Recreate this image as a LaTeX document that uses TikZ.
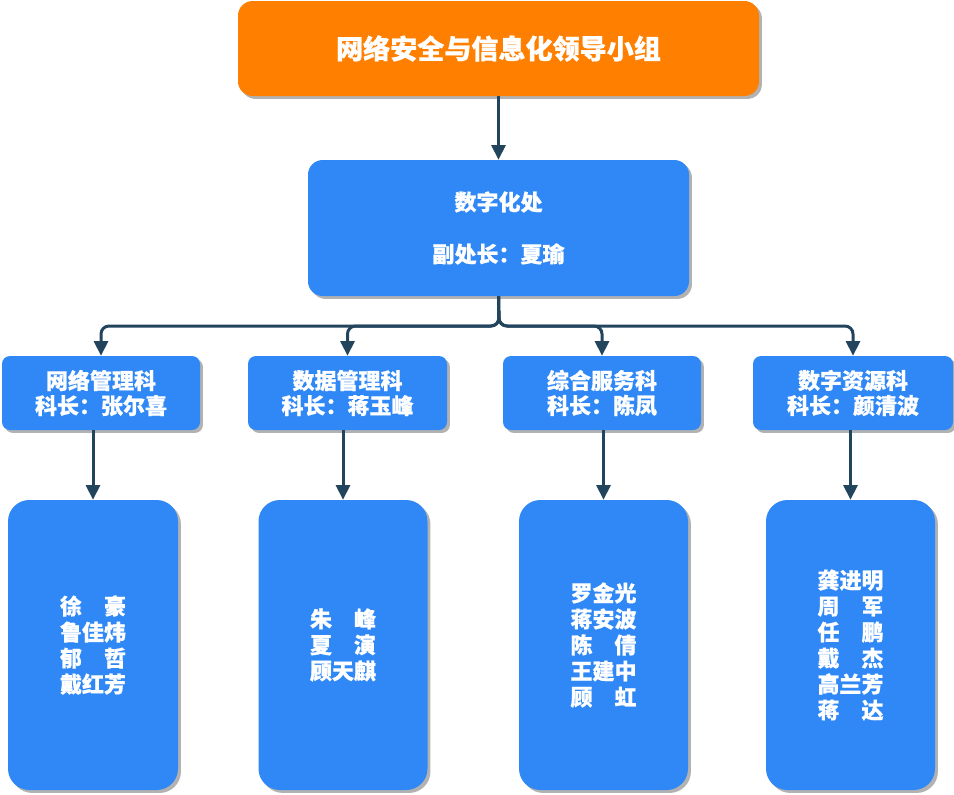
\documentclass[tikz,border=0pt]{standalone}
\usepackage{fontspec}
\setmainfont{Noto Sans CJK SC}[BoldFeatures={FakeBold=0.6}]
\usetikzlibrary{shadows,arrows.meta}
\definecolor{orangebox}{RGB}{255,128,0}
\definecolor{bluebox}{RGB}{47,136,246}
\definecolor{conn}{RGB}{35,68,93}
\begin{document}
\begin{tikzpicture}[x=0.75pt,y=-0.75pt,
  box/.style={rectangle, draw=none, text=white, align=center, inner sep=0pt,
    drop shadow={shadow xshift=2.2pt,shadow yshift=-2.2pt,fill=black!30,opacity=1}},
  topbox/.style={box, fill=orangebox, rounded corners=11pt,
    minimum width={521*0.75pt}, minimum height={95*0.75pt},
    font=\fontsize{20.3pt}{24pt}\selectfont\bfseries},
  midbox/.style={box, fill=bluebox, rounded corners=11pt,
    minimum width={381*0.75pt}, minimum height={136*0.75pt},
    font=\fontsize{16.5pt}{19.5pt}\selectfont\bfseries},
  secbox/.style={box, fill=bluebox, rounded corners=6pt,
    minimum height={74*0.75pt},
    font=\fontsize{16.5pt}{18.75pt}\selectfont\bfseries},
  namebox/.style={box, fill=bluebox, rounded corners=16pt,
    minimum height={290*0.75pt},
    font=\fontsize{16.5pt}{19.5pt}\selectfont\bfseries},
  link/.style={draw=conn, line width=2.25pt, rounded corners=6pt,
    -{Triangle[width=10.5pt,length=11pt]}}
]
\useasboundingbox (0,0) rectangle (954,794);

\node[topbox] (top) at (498.5,48.5) {网络安全与信息化领导小组};
\node[midbox] (mid) at (498.5,228) {数字化处\\[19.5pt]副处长：夏瑜};

\node[secbox, minimum width={198*0.75pt}] (s1) at (101,393) {网络管理科\\科长：张尔喜};
\node[secbox, minimum width={199*0.75pt}] (s2) at (347.5,393) {数据管理科\\科长：蒋玉峰};
\node[secbox, minimum width={198*0.75pt}] (s3) at (602,393) {综合服务科\\科长：陈凤};
\node[secbox, minimum width={200*0.75pt}] (s4) at (853,393) {数字资源科\\科长：颜清波};

\node[namebox, minimum width={170*0.75pt}] (b1) at (93,645) {徐　豪\\鲁佳炜\\郁　哲\\戴红芳};
\node[namebox, minimum width={169*0.75pt}] (b2) at (343,645) {朱　峰\\夏　演\\顾天麒};
\node[namebox, minimum width={169*0.75pt}] (b3) at (603.5,645) {罗金光\\蒋安波\\陈　倩\\王建中\\顾　虹};
\node[namebox, minimum width={169*0.75pt}] (b4) at (850.5,645) {龚进明\\周　军\\任　鹏\\戴　杰\\高兰芳\\蒋　达};

\coordinate (j) at (499,326);

\draw[link] (top.south) -- (mid.north);
\draw[link] (mid.south) -- (j) -| (s1.north);
\draw[link] (mid.south) -- (j) -| (s2.north);
\draw[link] (mid.south) -- (j) -| (s3.north);
\draw[link] (mid.south) -- (j) -| (s4.north);

\draw[link] (s1.south -| b1.north) -- (b1.north);
\draw[link] (s2.south -| b2.north) -- (b2.north);
\draw[link] (s3.south -| b3.north) -- (b3.north);
\draw[link] (s4.south -| b4.north) -- (b4.north);
\end{tikzpicture}
\end{document}
